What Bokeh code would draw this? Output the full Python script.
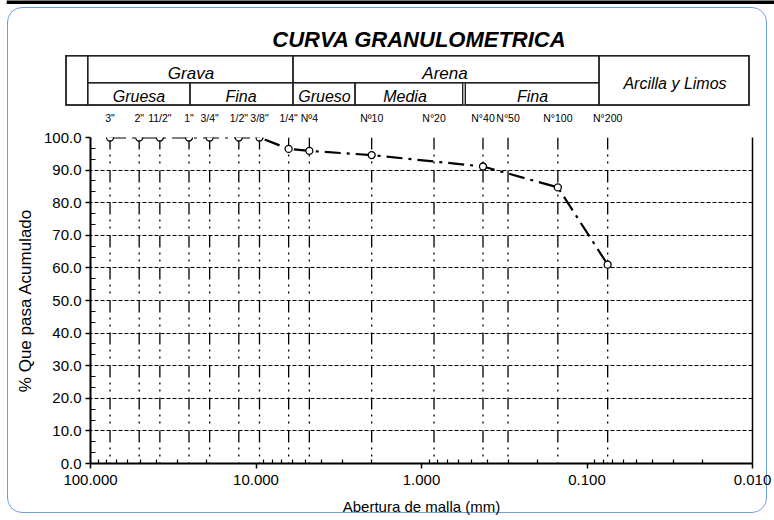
from bokeh.plotting import figure
from bokeh.layouts import column
from bokeh.models import (Range1d, FixedTicker, LogAxis, LinearAxis, PrintfTickFormatter,
                          AllLabels, Div)
from bokeh.embed import file_html
from bokeh.resources import INLINE

# ---------------- data ----------------
sieve_labels = ['3"', '2"', '11/2"', '1"', '3/4"', '1/2"', '3/8"', '1/4"',
                'Nº4', 'Nº10', 'N°20', 'N°40', 'N°50', 'N°100', 'N°200']
sieve_mm = [76.2, 50.8, 38.1, 25.4, 19.05, 12.7, 9.525, 6.35,
            4.76, 2.0, 0.84, 0.425, 0.3, 0.15, 0.075]

tamiz_mm = [76.2, 50.8, 38.1, 25.4, 19.05, 12.7, 9.525, 6.35, 4.76, 2.0, 0.425, 0.15, 0.075]
pasa_pct = [100.0, 100.0, 100.0, 100.0, 100.0, 100.0, 100.0, 96.5, 95.9, 94.6, 91.1, 84.7, 61.0]

x_ticks = [100, 10, 1, 0.1, 0.01]
y_ticks = [0, 10, 20, 30, 40, 50, 60, 70, 80, 90, 100]

title_text = "CURVA GRANULOMETRICA"
row1_labels = ["Grava", "Arena"]
row2_labels = ["Gruesa", "Fina", "Grueso", "Media", "Fina"]
fines_label = "Arcilla y Limos"

W = 774
HDR_H = 106
FRAME_L, FRAME_R = 90, 752
FONT = "Liberation Sans"

# ---------------- header: title + soil classification table (inline SVG) ----------------
T, M, B = 55.7, 82.7, 105
cells = [  # left, right, top, bottom
    (66, 749, T, B), (66, 87.7, T, B), (87.7, 293, T, M), (293, 599, T, M),
    (599, 749, T, B), (87.7, 190, M, B), (190, 293, M, B), (293, 355, M, B),
    (355, 462.7, M, B), (465.3, 599, M, B),
]
parts = [f'<svg xmlns="http://www.w3.org/2000/svg" width="{W}" height="{HDR_H}" style="display:block">',
         '<rect x="6.7" y="0.5" width="767.3" height="3.5" fill="black"/>']
for l, r, t, b in cells:
    parts.append(f'<rect x="{l}" y="{t}" width="{r - l:.1f}" height="{b - t:.1f}" '
                 'fill="none" stroke="#222222" stroke-width="1.4"/>')


def svg_text(x, y, s, size, weight="normal"):
    return (f'<text x="{x}" y="{y}" text-anchor="middle" font-family="{FONT}" '
            f'font-size="{size}px" font-style="italic" font-weight="{weight}" fill="black">{s}</text>')


parts.append(svg_text(419, 47, title_text, 22, "bold"))
for x, s in zip([191, 445], row1_labels):
    parts.append(svg_text(x, 79.3, s, 17))
for x, s in zip([139, 241, 324.5, 405, 532.5], row2_labels):
    parts.append(svg_text(x, 101.5, s, 16))
parts.append(svg_text(675, 89, fines_label, 16))
parts.append('</svg>')

hdr = Div(text="".join(parts), width=W, height=HDR_H, margin=(0, 0, 0, 0))

# ---------------- main chart ----------------
p = figure(width=W, height=520 - HDR_H, x_axis_type="log", x_range=Range1d(100, 0.01),
           y_range=Range1d(0, 100), output_backend="svg", toolbar_location=None,
           min_border_left=FRAME_L, min_border_right=W - FRAME_R,
           min_border_top=137 - HDR_H, min_border_bottom=57,
           outline_line_color=None, background_fill_color=None, border_fill_color=None)

# horizontal dashed grid
p.xgrid.visible = False
p.ygrid.ticker = FixedTicker(ticks=y_ticks[1:])
p.ygrid.grid_line_color = "black"
p.ygrid.grid_line_dash = "4 2"
p.ygrid.grid_line_width = 1

# vertical dash-dot-dot lines at each sieve opening
p.segment(x0=sieve_mm, y0=[100] * len(sieve_mm), x1=sieve_mm, y1=[0] * len(sieve_mm),
          line_color="black", line_width=1.3, line_dash="12 5 2 5 2 7 12 5 2 5 2 6")

# data curve
p.line(tamiz_mm, pasa_pct, line_color="black", line_width=2.2, line_dash="16 6 3 6")
p.scatter(tamiz_mm, pasa_pct, marker="circle", size=7, fill_color="white",
          line_color="black", line_width=1.3)

# bottom axis
xa = p.xaxis[0]
xa.ticker = FixedTicker(ticks=x_ticks,
                        minor_ticks=[k * 10.0 ** e for e in range(-2, 2) for k in range(2, 10)])
xa.formatter = PrintfTickFormatter(format="%.3f")
xa.axis_label = "Abertura de malla (mm)"
xa.axis_line_width = 2
xa.major_tick_out = 5
xa.major_tick_in = 0
xa.minor_tick_in = 4
xa.minor_tick_out = 0
xa.major_label_standoff = 6
xa.axis_label_standoff = 10

# left axis
ya = p.yaxis[0]
ya.ticker = FixedTicker(ticks=y_ticks,
                        minor_ticks=[t + d for t in y_ticks[:-1] for d in (10 / 3, 20 / 3)])
ya.formatter = PrintfTickFormatter(format="%.1f")
ya.axis_label = "% Que pasa Acumulado"
ya.axis_line_width = 2
ya.major_tick_out = 5
ya.major_tick_in = 0
ya.minor_tick_in = 5
ya.minor_tick_out = 0
ya.major_label_standoff = 4
ya.axis_label_standoff = 6

for ax in (xa, ya):
    ax.axis_line_color = "black"
    ax.major_tick_line_color = "black"
    ax.minor_tick_line_color = "black"
    ax.major_tick_line_width = 1.5
    ax.minor_tick_line_width = 1.2
    ax.major_label_text_font = FONT
    ax.major_label_text_font_size = "15px"
    ax.major_label_text_color = "black"
    ax.axis_label_text_font = FONT
    ax.axis_label_text_font_style = "normal"
    ax.axis_label_text_color = "black"
xa.axis_label_text_font_size = "15px"
ya.axis_label_text_font_size = "17px"

# sieve names along the top
top = LogAxis(ticker=FixedTicker(ticks=sieve_mm),
              major_label_overrides={v: s for v, s in zip(sieve_mm, sieve_labels)},
              major_label_policy=AllLabels())
top.axis_line_color = None
top.major_tick_line_color = None
top.minor_tick_line_color = None
top.major_label_standoff = 8
top.major_label_text_font = FONT
top.major_label_text_font_size = "10.5px"
top.major_label_text_color = "black"
p.add_layout(top, "above")

# solid right border of plot area
right = LinearAxis(ticker=FixedTicker(ticks=[]))
right.axis_line_color = "black"
right.axis_line_width = 1.5
right.major_tick_line_color = None
right.minor_tick_line_color = None
p.add_layout(right, "right")

# light-blue rounded frame around the whole chart
layout = column(hdr, p, styles={"outline": "1px solid #6f9ee0", "outline-offset": "-8px",
                                "border-radius": "22px"})

open("out.html", "w").write(file_html(layout, INLINE))
